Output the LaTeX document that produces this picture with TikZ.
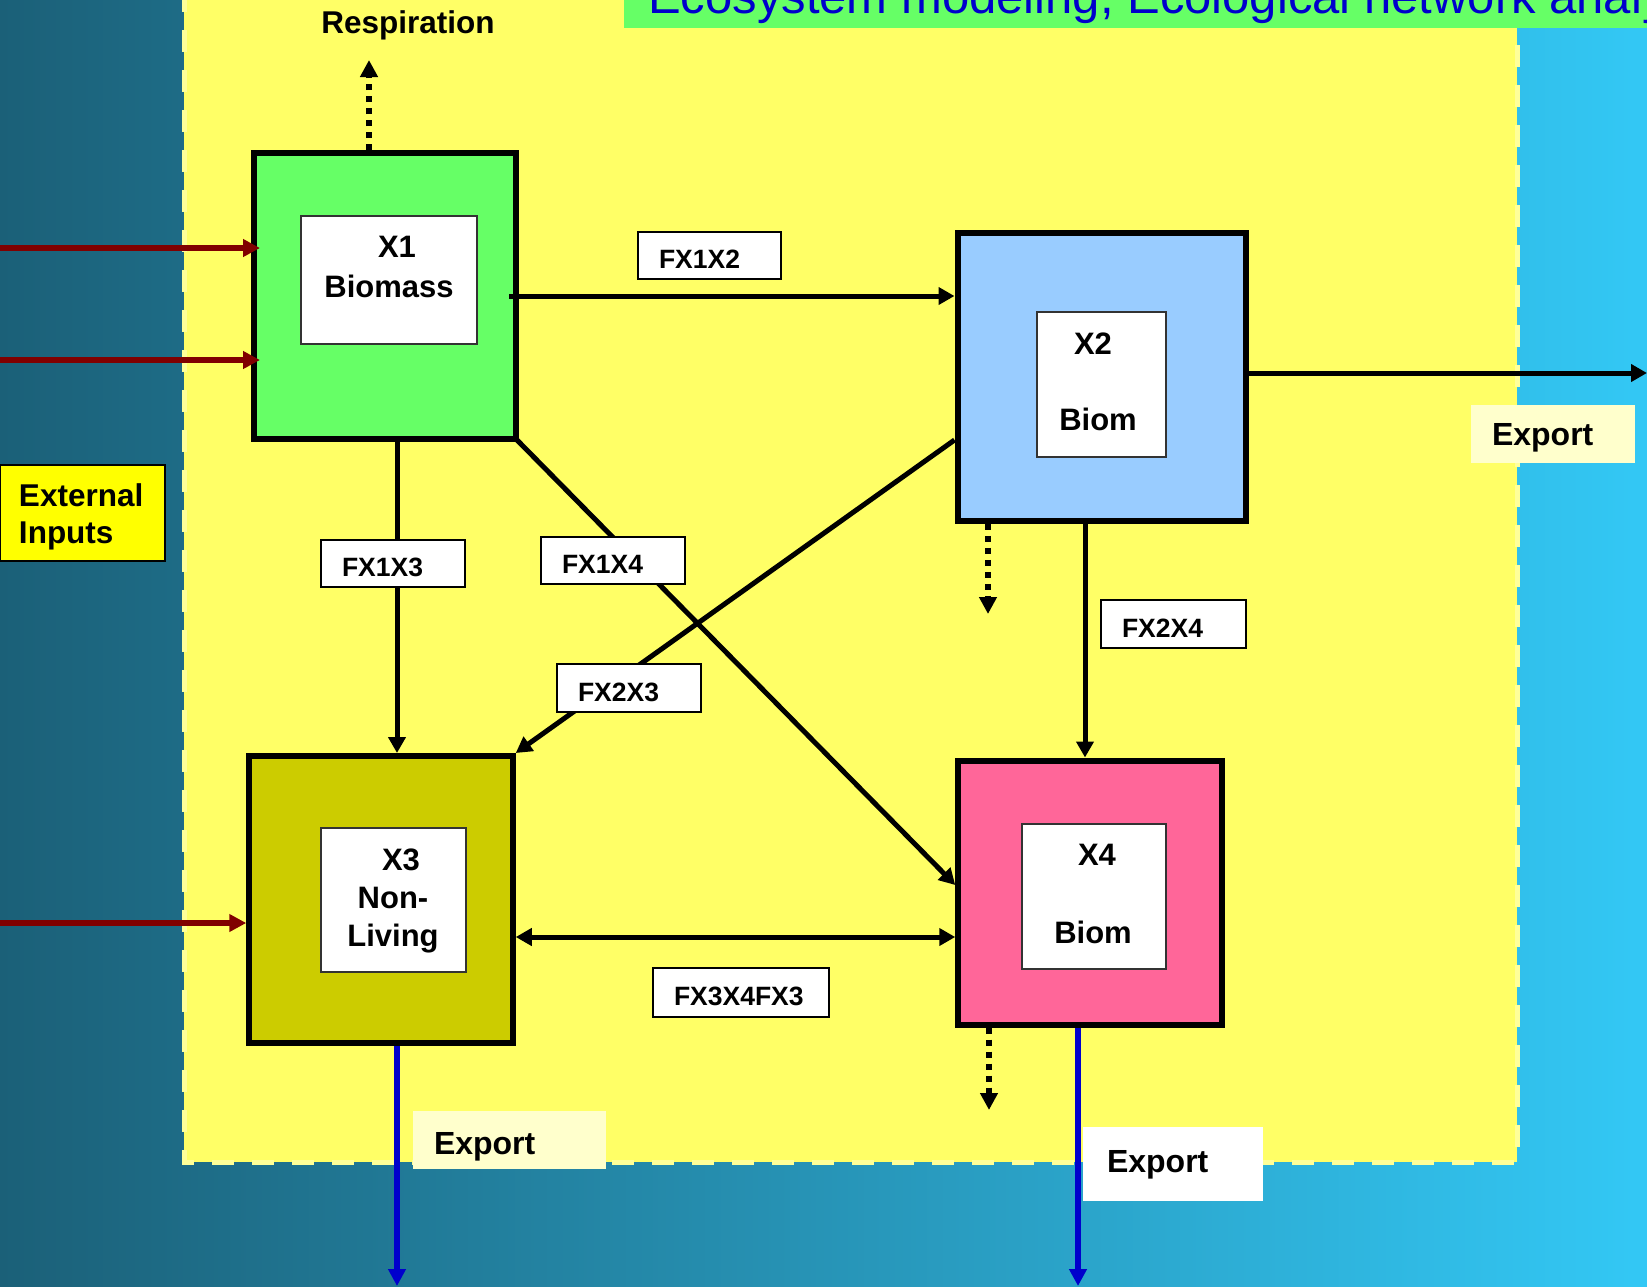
\documentclass[tikz,border=0pt]{standalone}
\usepackage{fontspec}
\setmainfont{Liberation Sans}
\usetikzlibrary{arrows.meta}

\definecolor{bgdark}{HTML}{1B6078}
\definecolor{bglight}{HTML}{33C8F5}
\definecolor{panelyellow}{HTML}{FFFF66}
\definecolor{paneledge}{HTML}{FFFF99}
\definecolor{titlegreen}{HTML}{66FF66}
\definecolor{titleblue}{HTML}{0000CC}
\definecolor{biogreen}{HTML}{66FF66}
\definecolor{bioblue}{HTML}{99CCFF}
\definecolor{detritus}{HTML}{CCCC00}
\definecolor{biopink}{HTML}{FF6699}
\definecolor{inputyellow}{HTML}{FFFF00}
\definecolor{exportpale}{HTML}{FFFFCC}
\definecolor{inputred}{HTML}{800000}
\definecolor{exportblue}{HTML}{0000CC}
\definecolor{innerline}{HTML}{333333}

\newcommand\compfont{\fontsize{31}{38}\selectfont\bfseries}
\newcommand\tagfont{\fontsize{26.5}{30}\selectfont\bfseries}
\newcommand\notefont{\fontsize{32}{36}\selectfont\bfseries}

\tikzset{
  compartment/.style={draw=black, line width=6pt, inner sep=0pt},
  innerbox/.style={draw=innerline, line width=2pt, fill=white, inner sep=0pt},
  comptext/.style={anchor=north, inner sep=0pt, align=center, font=\compfont},
  flowtag/.style={draw=black, line width=2pt, fill=white, inner xsep=21pt,
    inner ysep=0pt, minimum height=47pt, align=left, font=\tagfont,
    text height=26pt, text depth=0pt},
  exporttag/.style={fill=exportpale, inner xsep=21pt, inner ysep=0pt,
    align=left, font=\notefont, text depth=0pt},
  flow/.style={line width=5pt, -{Triangle[length=16pt,width=17pt]}},
  twoway/.style={line width=5pt,
    {Triangle[length=16pt,width=17pt]}-{Triangle[length=16pt,width=17pt]}},
  inflow/.style={draw=inputred, line width=5.5pt,
    -{Triangle[length=17pt,width=17pt]}},
  outflow/.style={draw=exportblue, line width=5.5pt,
    -{Triangle[length=17pt,width=17pt]}},
  lossflow/.style={line width=6pt, dash pattern=on 6pt off 6pt,
    -{Triangle[length=17pt,width=17pt]}},
}

\begin{document}
\begin{tikzpicture}[x=1pt, y=-1pt]
\useasboundingbox (0,0) rectangle (1647,1286);
\clip (0,0) rectangle (1647,1286);

% slide background
\fill[left color=bgdark, right color=bglight] (0,0) rectangle (1647,1286);

% system boundary
\fill[panelyellow] (184,-10) rectangle (1517,1162);
\draw[paneledge, line width=5pt, dash pattern=on 22pt off 18pt]
  (184,-10) -- (184,1162) -- (1517,1162) -- (1517,-10);

% title bar
\fill[titlegreen] (624,-10) rectangle (1660,28);
\node[anchor=base west, inner sep=0pt, text=titleblue,
  font=\fontsize{49}{56}\selectfont] (title) at (648,13)
  {Ecosystem modeling, Ecological network analy};

% compartments
\node[compartment, fill=biogreen, minimum width=262pt, minimum height=286pt]
  (x1) at (385,296) {};
\node[compartment, fill=bioblue, minimum width=288pt, minimum height=287.5pt]
  (x2) at (1101.5,377) {};
\node[compartment, fill=detritus, minimum width=263.5pt, minimum height=287pt]
  (x3) at (381,899.5) {};
\node[compartment, fill=biopink, minimum width=263.5pt, minimum height=264pt]
  (x4) at (1090,892.5) {};

\node[innerbox, minimum width=176pt, minimum height=128pt] (x1in) at (389,280) {};
\node[innerbox, minimum width=129pt, minimum height=145pt] (x2in) at (1101.5,384.5) {};
\node[innerbox, minimum width=145pt, minimum height=144pt] (x3in) at (393.5,900) {};
\node[innerbox, minimum width=144pt, minimum height=145pt] (x4in) at (1094,896.5) {};

\node[comptext, font=\fontsize{31}{40}\selectfont\bfseries] (x1txt) at (389,236)
  {\hspace*{16pt}X1\\Biomass};
\node[comptext] (x2txt) at (1098,333) {X2\hspace*{10pt}\\[38pt]Biom};
\node[comptext, font=\fontsize{31}{38}\selectfont\bfseries] (x3txt) at (393,849)
  {\hspace*{16pt}X3\\Non-\\Living};
\node[comptext] (x4txt) at (1093,844) {\hspace*{8pt}X4\\[40pt]Biom};

% labels outside the compartments
\node[anchor=base, inner sep=0pt, font=\fontsize{31.5}{36}\selectfont\bfseries]
  (resplbl) at (408,33) {Respiration};
\node[draw=black, line width=2pt, fill=inputyellow, inner xsep=19pt, inner ysep=0pt,
  text width=127pt, text height=31pt, minimum height=96pt, align=left,
  font=\fontsize{31.5}{37}\selectfont\bfseries] (extin) at (82.5,513)
  {External\\Inputs};

% free ends of the connectors
\coordinate (resp) at (369,60);
\coordinate (in1) at (0,248);
\coordinate (in2) at (0,360);
\coordinate (in3) at (0,923);
\coordinate (outE) at (1647,373);
\coordinate (lossB) at (988,614);
\coordinate (lossD) at (989,1110);
\coordinate (outC) at (397,1286);
\coordinate (outD) at (1078,1286);

% connectors
\draw[lossflow] (x1.north -| resp) -- (resp);
\draw[inflow, shorten >=-9pt] (in1) -- (in1 -| x1.west);
\draw[inflow, shorten >=-9pt] (in2) -- (in2 -| x1.west);
\draw[inflow] (in3) -- (in3 -| x3.west);
\draw[flow, shorten <=-10pt] (x1.east |- 0,296) -- (x2.west |- 0,296);
\draw[flow, shorten <=-6pt] (x1.south east) -- (x4.west |- 0,885);
\draw[flow] (x2.west |- 0,440) -- (x3.north east);
\draw[flow] (x1.south -| 397,0) -- (x3.north -| 397,0);
\draw[flow] (x2.south -| 1085,0) -- (x4.north -| 1085,0);
\draw[twoway] (x3.east |- 0,937) -- (x4.west |- 0,937);
\draw[flow] (x2.east |- outE) -- (outE);
\draw[lossflow] (x2.south -| lossB) -- (lossB);
\draw[lossflow] (x4.south -| lossD) -- (lossD);
\draw[outflow] (x3.south -| outC) -- (outC);
\draw[outflow] (x4.south -| outD) -- (outD);

% flow labels
\node[flowtag, text width=101pt] (f12) at (709.5,255.5) {FX1X2};
\node[flowtag, text width=102pt] (f13) at (393,563.5) {FX1X3};
\node[flowtag, text width=102pt] (f14) at (613,560.5) {FX1X4};
\node[flowtag, text width=102pt, minimum height=48pt] (f23) at (629,688) {FX2X3};
\node[flowtag, text width=103pt, minimum height=48pt] (f24) at (1173.5,624) {FX2X4};
\node[flowtag, text width=134pt, minimum height=49pt] (f34) at (741,992.5) {FX3X4FX3};

% export labels
\node[exporttag, text width=122pt, minimum height=58pt] (expE) at (1553,434) {Export};
\node[exporttag, text width=151pt, minimum height=58pt, text height=29pt]
  (expC) at (509.5,1140) {Export};
\node[exporttag, fill=white, inner xsep=24pt, text width=132pt, minimum height=74pt,
  text depth=6pt] (expD) at (1173,1164) {Export};
\end{tikzpicture}
\end{document}
